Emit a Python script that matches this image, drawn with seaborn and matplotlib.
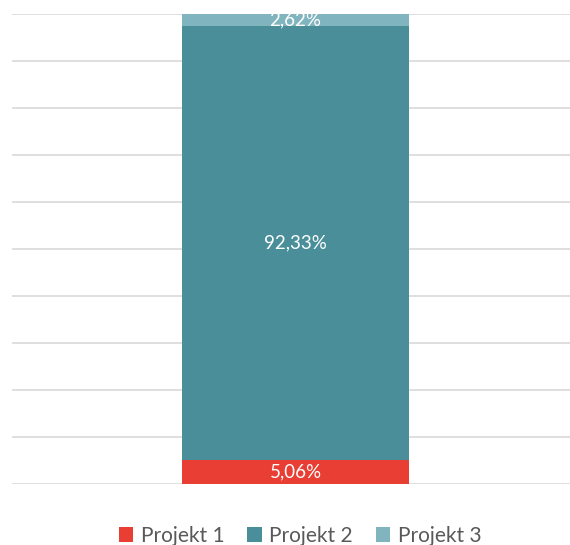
import matplotlib
matplotlib.use("Agg")
import matplotlib.pyplot as plt
import seaborn as sns
import pandas as pd
from matplotlib.patches import Patch

# data
projects = ["Projekt 1", "Projekt 2", "Projekt 3"]
shares = [5.06, 92.33, 2.62]
labels = ["5,06%", "92,33%", "2,62%"]
colors = ["#E83E33", "#4A8E9A", "#80B4BF"]

sns.set_theme(style="white")
plt.rcParams["font.family"] = ["Lato", "DejaVu Sans"]

fig = plt.figure(figsize=(5.7, 5.45), dpi=100)
ax = fig.add_axes([12 / 570, 61 / 545, 558 / 570, 470 / 545])

df = pd.DataFrame({"cat": ["Gesamt"] * 3, "project": projects, "share": shares})

bottom = 0
for i, row in df.iterrows():
    sns.barplot(x=[row["cat"]], y=[row["share"]], bottom=bottom,
                color=colors[i], width=0.407, saturation=1,
                linewidth=0, ax=ax)
    ax.text(0, bottom + row["share"] / 2, labels[i], ha="center",
            va="center", color="white", fontsize=13.5)
    bottom += row["share"]

ax.set_xlim(-0.508, 0.492)
ax.set_ylim(0, 100)
ax.set_yticks(range(0, 101, 10))
ax.yaxis.grid(True, color="#D9D9D9", linewidth=1.2)
ax.set_axisbelow(True)
ax.set_xticks([])
ax.set_yticklabels([])
ax.tick_params(left=False, bottom=False)
ax.set_xlabel("")
ax.set_ylabel("")
for s in ax.spines.values():
    s.set_visible(False)

handles = [Patch(facecolor=c, edgecolor="none") for c in colors]
fig.legend(handles, projects, loc="center", bbox_to_anchor=(300 / 570, 9 / 545),
           ncol=3, frameon=False, fontsize=15, handlelength=0.7,
           handleheight=0.7, handletextpad=0.35, columnspacing=1.1,
           labelcolor="#595959")

fig.savefig("out.png", dpi=100)
